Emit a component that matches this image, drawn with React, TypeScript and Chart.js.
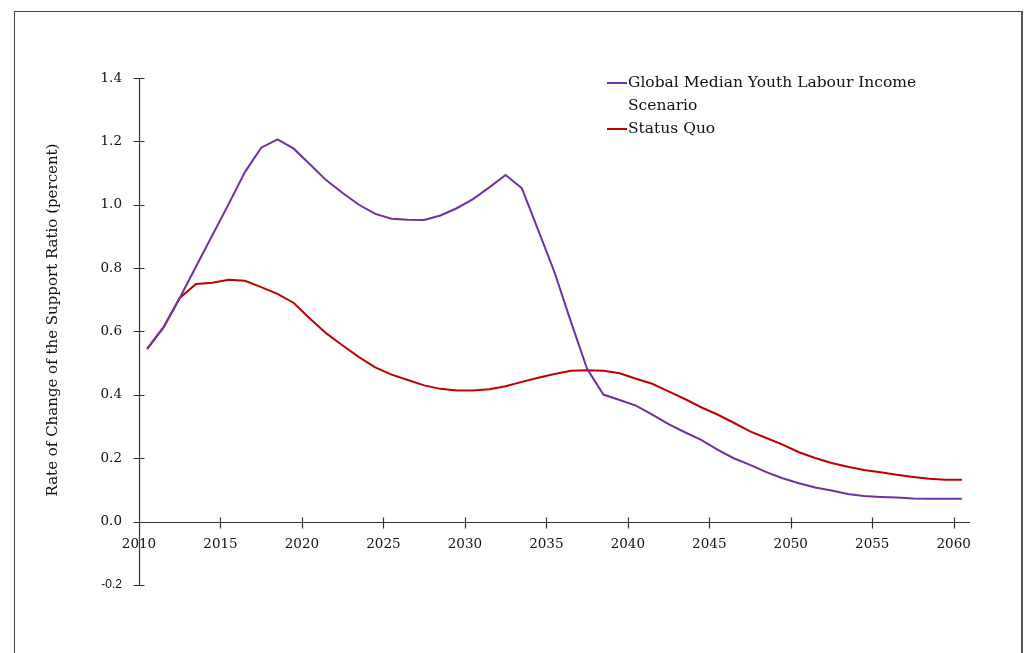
import React, { useEffect, useRef } from "react";
import { Chart, registerables } from "chart.js";

Chart.register(...registerables);

const years: number[] = [];
for (let y = 2010; y <= 2060; y++) years.push(y);

const youthScenario = [
  0.545, 0.613, 0.706, 0.805, 0.904, 1.002, 1.103, 1.180, 1.206, 1.177,
  1.127, 1.077, 1.037, 1.000, 0.971, 0.956, 0.953, 0.952, 0.966, 0.989,
  1.018, 1.055, 1.094, 1.052, 0.920, 0.787, 0.632, 0.482, 0.401, 0.384,
  0.366, 0.338, 0.308, 0.282, 0.258, 0.227, 0.200, 0.179, 0.156, 0.137,
  0.121, 0.108, 0.098, 0.087, 0.081, 0.078, 0.076, 0.073, 0.072, 0.072,
  0.072,
];

const statusQuo = [
  0.545, 0.613, 0.706, 0.750, 0.754, 0.763, 0.760, 0.740, 0.719, 0.690,
  0.640, 0.594, 0.556, 0.519, 0.487, 0.464, 0.447, 0.430, 0.419, 0.414,
  0.414, 0.418, 0.427, 0.441, 0.454, 0.466, 0.476, 0.478, 0.476, 0.468,
  0.451, 0.435, 0.411, 0.387, 0.361, 0.338, 0.312, 0.285, 0.264, 0.243,
  0.219, 0.201, 0.185, 0.173, 0.163, 0.156, 0.148, 0.141, 0.135, 0.132,
  0.132,
];

const seriesNames = ["Global Median Youth Labour Income Scenario", "Status Quo"];
const legendLines = [["Global Median Youth Labour Income", "Scenario"], ["Status Quo"]];
const seriesColors = ["#7030A0", "#C00000"];
const yTicks = [-0.2, 0, 0.2, 0.4, 0.6, 0.8, 1.0, 1.2, 1.4];
const xTicks = [2010, 2015, 2020, 2025, 2030, 2035, 2040, 2045, 2050, 2055, 2060];
const yTitle = "Rate of Change of the Support Ratio (percent)";

const SERIF = "'DejaVu Serif', serif";
const AXIS_COLOR = "#333333";

const crossTicks = {
  id: "crossTicks",
  afterDraw(chart: any) {
    const { ctx, scales } = chart;
    const xs = scales.x;
    const ys = scales.y;
    const x0 = Math.round(xs.getPixelForValue(2010)) + 0.5;
    const y0 = Math.round(ys.getPixelForValue(0)) + 0.5;
    ctx.save();
    ctx.strokeStyle = AXIS_COLOR;
    ctx.lineWidth = 1.2;
    ctx.beginPath();
    ctx.moveTo(x0, Math.round(ys.getPixelForValue(1.4)));
    ctx.lineTo(x0, Math.round(ys.getPixelForValue(-0.2)) + 1);
    ctx.moveTo(x0, y0);
    ctx.lineTo(Math.round(xs.getPixelForValue(2061)), y0);
    for (const v of yTicks) {
      const py = Math.round(ys.getPixelForValue(v)) + 0.5;
      ctx.moveTo(x0 - 6, py);
      ctx.lineTo(x0 + 5, py);
    }
    for (const v of xTicks) {
      const px = Math.round(xs.getPixelForValue(v)) + 0.5;
      ctx.moveTo(px, y0 - 5);
      ctx.lineTo(px, y0 + 6);
    }
    ctx.stroke();

    ctx.fillStyle = "#111";
    ctx.font = `15px ${SERIF}`;
    ctx.translate(53, 320);
    ctx.rotate(-Math.PI / 2);
    ctx.textAlign = "center";
    ctx.textBaseline = "middle";
    ctx.fillText(yTitle, 0, 0);
    ctx.restore();

    ctx.save();
    ctx.font = `15.5px ${SERIF}`;
    ctx.textBaseline = "alphabetic";
    ctx.textAlign = "left";
    let baseY = 87;
    legendLines.forEach((lines, i) => {
      ctx.strokeStyle = seriesColors[i];
      ctx.lineWidth = 2;
      ctx.beginPath();
      ctx.moveTo(607, baseY - 4);
      ctx.lineTo(627, baseY - 4);
      ctx.stroke();
      ctx.fillStyle = "#111";
      lines.forEach((ln, j) => {
        ctx.fillText(ln, 628, baseY + j * 23);
      });
      baseY += lines.length * 23;
    });
    ctx.restore();
  },
};

export default function App() {
  const ref = useRef<HTMLCanvasElement | null>(null);

  useEffect(() => {
    if (!ref.current) return;
    const chart = new Chart(ref.current, {
      type: "line",
      data: {
        datasets: [
          {
            label: seriesNames[0],
            data: years.map((y, i) => ({ x: y + 0.5, y: youthScenario[i] })),
            borderColor: seriesColors[0],
            borderWidth: 2,
            pointRadius: 0,
            tension: 0,
          },
          {
            label: seriesNames[1],
            data: years.map((y, i) => ({ x: y + 0.5, y: statusQuo[i] })),
            borderColor: seriesColors[1],
            borderWidth: 2,
            pointRadius: 0,
            tension: 0,
          },
        ],
      },
      options: {
        responsive: false,
        animation: false,
        layout: { padding: { left: 0, right: 55, top: 78, bottom: 68 } },
        plugins: {
          legend: { display: false },
          tooltip: { enabled: false },
        },
        scales: {
          x: {
            type: "linear",
            position: { y: 0 } as any,
            min: 2010,
            max: 2061,
            afterBuildTicks: (s: any) => {
              s.ticks = xTicks.map((v) => ({ value: v }));
            },
            grid: { display: false, drawTicks: false },
            border: { display: false },
            ticks: {
              padding: 15,
              maxRotation: 0,
              autoSkip: false,
              color: "#111",
              font: { family: SERIF, size: 13.5 },
              callback: (v: any) => String(v),
            },
          },
          y: {
            type: "linear",
            min: -0.2,
            max: 1.4,
            afterBuildTicks: (s: any) => {
              s.ticks = yTicks.map((v) => ({ value: v }));
            },
            afterFit: (s: any) => {
              s.width = 139;
            },
            grid: { display: false, drawTicks: false },
            border: { display: false },
            ticks: {
              padding: 17,
              color: "#111",
              font: (c: any) =>
                c.tick && c.tick.value < 0
                  ? { family: "'Liberation Sans', sans-serif", size: 12 }
                  : { family: SERIF, size: 13.5 },
              callback: (v: any) => Number(v).toFixed(1),
            },
          },
        },
      },
      plugins: [crossTicks],
    });
    return () => chart.destroy();
  }, []);

  return (
    <div
      style={{
        position: "fixed",
        left: 0,
        top: 0,
        width: 1025,
        height: 653,
        background: "#fff",
        overflow: "hidden",
      }}
    >
      <div
        style={{
          position: "absolute",
          left: 14,
          top: 11,
          width: 1006,
          height: 700,
          borderLeft: "1px solid #444",
          borderTop: "1px solid #444",
          borderRight: "2px solid #555",
        }}
      />
      <canvas
        ref={ref}
        width={1025}
        height={653}
        style={{ position: "absolute", left: 0, top: 0, width: 1025, height: 653 }}
      />
    </div>
  );
}
